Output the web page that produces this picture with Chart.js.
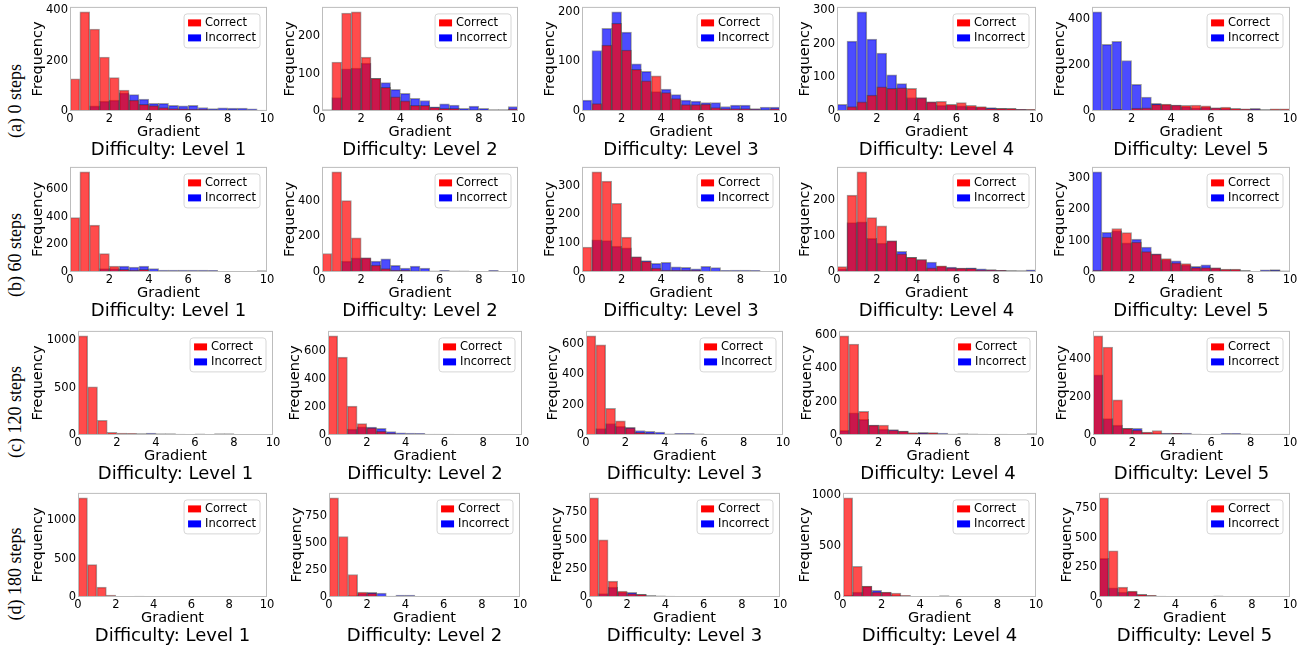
<!DOCTYPE html>
<html><head><meta charset="utf-8">
<script src="https://cdn.jsdelivr.net/npm/chart.js@4.4.0/dist/chart.umd.min.js"></script>
<style>
html,body{margin:0;padding:0;background:#fff;width:1307px;height:649px;overflow:hidden;position:relative;font-family:"DejaVu Sans",sans-serif;}
canvas{position:absolute;}
.rowlab{position:absolute;font-family:"Liberation Serif","Times New Roman",serif;font-size:18px;color:#000;white-space:nowrap;transform:translate(-50%,-50%) rotate(-90deg);}
</style></head><body>
<script>
// ---- categories (bin centres of 0.5-wide bins on 0..10) ----
const bins = [0.25,0.75,1.25,1.75,2.25,2.75,3.25,3.75,4.25,4.75,5.25,5.75,6.25,6.75,7.25,7.75,8.25,8.75,9.25,9.75];
const seriesNames = ['Correct','Incorrect'];
const rowLabels = ['(a) 0 steps','(b) 60 steps','(c) 120 steps','(d) 180 steps'];
const levelTitles = ['Difficulty: Level 1','Difficulty: Level 2','Difficulty: Level 3','Difficulty: Level 4','Difficulty: Level 5'];
const xTicks = [0,2,4,6,8,10];
const yTicksA = [[0,200,400],[0,100,200],[0,100,200],[0,100,200,300],[0,200,400]];
const yTicksB = [[0,200,400,600],[0,200,400],[0,100,200,300],[0,100,200],[0,100,200,300]];
const yTicksC = [[0,500,1000],[0,200,400,600],[0,200,400,600],[0,200,400,600],[0,200,400]];
const yTicksD = [[0,500,1000],[0,250,500,750],[0,250,500,750],[0,500,1000],[0,250,500,750]];

// ---- (a) 0 steps ----
const correctA1 = [128,393,325,214,132,83,43,26,21,14,10,9,7,7,6,5,6,5,4,1];
const incorrectA1 = [0,2,20,39,43,72,65,47,30,30,22,20,22,14,10,13,12,12,9,4];
const correctA2 = [3,131,262,265,144,87,63,38,27,15,15,10,7,7,3,4,3,3,3,6];
const incorrectA2 = [3,36,113,115,128,87,76,58,47,34,28,11,19,16,7,13,7,4,4,12];
const correctA3 = [0,15,133,177,123,84,61,71,37,25,13,13,14,7,5,5,5,4,3,5];
const incorrectA3 = [22,122,167,200,159,95,80,39,44,33,22,20,17,17,9,12,12,5,8,8];
const correctA4 = [0,13,27,47,72,67,69,67,39,27,29,20,25,17,13,8,8,8,5,5];
const incorrectA4 = [20,207,294,213,172,107,81,40,40,27,17,18,15,13,11,10,8,7,5,4];
const correctA5 = [0,0,7,4,13,14,29,30,26,25,26,22,14,17,12,9,7,6,9,9];
const incorrectA5 = [432,290,304,220,116,61,33,28,26,19,14,17,14,12,9,8,12,6,6,6];
// ---- (b) 60 steps ----
const correctB1 = [395,727,340,134,43,19,14,19,7,5,3,3,3,2,2,1,1,1,1,1];
const incorrectB1 = [0,0,0,24,24,43,36,43,24,14,14,14,14,14,12,0,0,5,0,10];
const correctB2 = [104,564,402,192,80,39,19,11,9,6,4,2,2,2,1,1,0,1,0,1];
const incorrectB2 = [0,7,61,80,80,61,74,37,22,33,22,6,9,6,6,4,0,9,0,4];
const correctB3 = [87,348,316,239,121,53,37,14,7,7,7,7,3,3,2,2,1,1,1,1];
const incorrectB3 = [5,112,109,90,84,53,40,30,34,18,16,11,20,15,6,7,7,6,2,2];
const correctB4 = [15,215,280,152,129,87,51,41,35,12,17,12,11,10,6,6,5,4,3,3];
const incorrectB4 = [9,138,140,94,81,87,58,41,35,28,16,14,11,12,9,7,5,4,4,6];
const correctB5 = [6,112,139,126,96,65,57,43,29,27,14,14,13,9,9,4,2,4,5,4];
const incorrectB5 = [320,127,132,93,105,80,58,40,36,23,18,23,13,8,8,5,2,7,8,3];
// ---- (c) 120 steps ----
const correctC1 = [1048,510,156,28,21,17,14,10,7,7,10,5,3,3,2,2,1,1,1,1];
const incorrectC1 = [0,0,0,5,10,10,12,21,14,14,7,5,12,5,14,14,7,3,0,0];
const correctC2 = [710,558,207,82,52,28,12,7,5,3,2,2,1,1,1,1,1,0,0,1];
const incorrectC2 = [0,0,42,59,56,47,24,16,14,12,7,7,6,5,2,2,3,0,0,5];
const correctC3 = [655,595,177,93,48,17,12,7,5,3,3,2,1,1,1,1,0,0,0,0];
const incorrectC3 = [0,43,76,58,50,30,24,19,7,11,11,7,5,5,3,2,4,2,0,2];
const correctC4 = [596,547,142,59,60,30,24,14,11,14,6,5,8,3,2,2,1,1,1,1];
const incorrectC4 = [28,134,94,59,35,33,24,12,16,12,12,6,4,7,5,3,6,3,3,8];
const correctC5 = [525,466,186,35,26,15,24,8,9,5,5,4,5,3,3,2,1,1,1,1];
const incorrectC5 = [318,87,52,35,35,13,10,10,9,10,5,4,4,9,9,6,3,2,5,5];
// ---- (d) 180 steps ----
const correctD1 = [1293,422,129,26,9,4,3,2,2,1,1,1,1,1,0,0,0,0,0,0];
const incorrectD1 = [0,0,0,0,3,10,12,10,5,3,3,2,2,4,2,1,1,1,3,0];
const correctD2 = [918,560,208,46,37,9,5,3,3,2,2,1,1,1,1,1,1,1,1,0];
const incorrectD2 = [0,0,12,37,43,37,9,18,18,5,5,4,3,4,3,2,1,1,1,1];
const correctD3 = [872,503,140,52,29,23,12,7,5,2,2,1,1,1,1,0,0,0,0,0];
const incorrectD3 = [0,29,87,44,41,24,12,10,8,5,5,3,2,2,2,2,2,2,0,0];
const correctD4 = [974,302,107,49,49,39,16,5,3,3,2,2,1,1,1,1,1,1,1,0];
const incorrectD4 = [20,49,105,65,45,20,10,5,3,7,13,4,3,3,2,2,2,2,3,0];
const correctD5 = [834,389,83,50,22,14,8,5,3,2,2,2,2,1,1,1,1,1,0,0];
const incorrectD5 = [325,78,42,45,20,12,6,4,2,2,2,2,10,3,3,3,4,2,0,0];

// ---- assemble (references only) ----
const gridCorrect = [
  [correctA1,correctA2,correctA3,correctA4,correctA5],
  [correctB1,correctB2,correctB3,correctB4,correctB5],
  [correctC1,correctC2,correctC3,correctC4,correctC5],
  [correctD1,correctD2,correctD3,correctD4,correctD5]];
const gridIncorrect = [
  [incorrectA1,incorrectA2,incorrectA3,incorrectA4,incorrectA5],
  [incorrectB1,incorrectB2,incorrectB3,incorrectB4,incorrectB5],
  [incorrectC1,incorrectC2,incorrectC3,incorrectC4,incorrectC5],
  [incorrectD1,incorrectD2,incorrectD3,incorrectD4,incorrectD5]];
const gridYTicks = [yTicksA,yTicksB,yTicksC,yTicksD];

// ---- layout (pixel positions of plot areas) ----
const L = {
  rowTop: [6,166,330,492],
  rowBottom: [111,272,435,597],
  lefts: [[70,322,582,837,1092],[70,322,582,837,1092],[78,328,586,839,1093],[78,329,589,843,1099]],
  rights: [[267,518,780,1036,1290],[267,518,780,1036,1290],[273,522,783,1037,1290],[267,520,780,1036,1290]],
  ylabOff: [[32,32,32,32,32],[32,32,32,32,32],[40,33,33,32,31],[40,32,32,38,32]],
  rowLabelPos: [[15,101],[15,255],[15,412],[15,574]]
};
const PAD_T = 8, PAD_R = 10, PAD_B = 2, XAX_H = 29, TITLE_H = 20;
const FONT = '"DejaVu Sans"';
const fillColors = ['rgba(255,0,0,0.7)','rgba(0,0,255,0.7)'];
const legendColors = ['#ff0000','#0000ff'];

const frameLegend = {
  id: 'frameLegend',
  afterDraw(chart) {
    const {ctx, chartArea: a} = chart;
    ctx.save();
    ctx.strokeStyle = '#bdbdbd'; ctx.lineWidth = 1;
    ctx.strokeRect(a.left + 0.5, a.top + 0.5, a.right - a.left - 1, a.bottom - a.top - 1);
    ctx.font = '11.5px ' + FONT;
    const labels = chart.data.datasets.map(d => d.label);
    const tw = Math.max(...labels.map(t => ctx.measureText(t).width));
    const pw = 13, ph = 7, pad = 4, gap = 4;
    const bw = pad + pw + gap + tw + pad, bh = 34;
    const bx = a.right - 7 - bw, by = a.top + 7;
    ctx.beginPath();
    if (ctx.roundRect) ctx.roundRect(bx, by, bw, bh, 3); else ctx.rect(bx, by, bw, bh);
    ctx.fillStyle = 'rgba(255,255,255,0.8)'; ctx.fill();
    ctx.strokeStyle = '#d6d6d6'; ctx.stroke();
    labels.forEach((t, k) => {
      const cy = by + 9 + k * 15;
      ctx.fillStyle = legendColors[k];
      ctx.fillRect(bx + pad, cy - ph / 2, pw, ph);
      ctx.fillStyle = '#000'; ctx.textBaseline = 'middle'; ctx.textAlign = 'left';
      ctx.fillText(t, bx + pad + pw + gap, cy + 0.5);
    });
    ctx.restore();
  }
};

rowLabels.forEach((t, r) => {
  const d = document.createElement('div');
  d.className = 'rowlab'; d.textContent = t;
  d.style.left = L.rowLabelPos[r][0] + 'px'; d.style.top = L.rowLabelPos[r][1] + 'px';
  document.body.appendChild(d);
});

for (let r = 0; r < 4; r++) {
  for (let c = 0; c < 5; c++) {
    const cor = gridCorrect[r][c], inc = gridIncorrect[r][c];
    const yt = gridYTicks[r][c];
    const W = L.ylabOff[r][c] + 8;
    const left = L.lefts[r][c], right = L.rights[r][c];
    const top = L.rowTop[r], bottom = L.rowBottom[r];
    const cw = W + (right - left) + PAD_R;
    const ch = PAD_T + (bottom - top) + XAX_H + TITLE_H + PAD_B;
    const cv = document.createElement('canvas');
    cv.width = cw; cv.height = ch;
    cv.style.left = (left - W) + 'px'; cv.style.top = (top - PAD_T) + 'px';
    cv.style.width = cw + 'px'; cv.style.height = ch + 'px';
    document.body.appendChild(cv);
    const ymax = 1.05 * Math.max(...cor, ...inc);
    const tickFont = {family: FONT, size: 11.5};
    new Chart(cv, {
      type: 'bar',
      data: {
        datasets: [cor, inc].map((vals, k) => ({
          label: seriesNames[k],
          data: bins.map((b, i) => ({x: b, y: vals[i]})),
          backgroundColor: fillColors[k],
          borderColor: 'rgba(40,40,40,0.45)',
          borderWidth: 1,
          borderSkipped: 'bottom',
          barPercentage: 1, categoryPercentage: 1, grouped: false
        }))
      },
      options: {
        responsive: false, maintainAspectRatio: false, animation: false, events: [],
        layout: {padding: {top: PAD_T, right: PAD_R, bottom: PAD_B, left: 0}},
        plugins: {
          legend: {display: false}, tooltip: {enabled: false},
          title: {display: true, position: 'bottom', fullSize: false, text: levelTitles[c], color: '#000',
                  font: {family: FONT, size: 18, weight: 'normal', lineHeight: '20px'}, padding: 0}
        },
        scales: {
          x: {type: 'linear', min: xTicks[0], max: xTicks[xTicks.length - 1], offset: false,
              grid: {display: false, drawTicks: false}, border: {display: false},
              ticks: {padding: 1, color: '#000', font: tickFont, maxRotation: 0, autoSkip: false,
                      callback: v => String(v)},
              afterBuildTicks(s) { s.ticks = xTicks.map(v => ({value: v})); },
              title: {display: true, text: 'Gradient', color: '#000', font: {family: FONT, size: 14.5, lineHeight: '16px'}, padding: 0},
              afterFit(s) { s.height = XAX_H; }},
          y: {min: 0, max: ymax,
              grid: {display: false, drawTicks: false}, border: {display: false},
              ticks: {padding: 2, color: '#000', font: tickFont, autoSkip: false, callback: v => String(v)},
              afterBuildTicks(s) { s.ticks = yt.map(v => ({value: v})); },
              title: {display: true, text: 'Frequency', color: '#000', font: {family: FONT, size: 14.5, lineHeight: '16px'}, padding: 0},
              afterFit(s) { s.width = W; }}
        }
      },
      plugins: [frameLegend]
    });
  }
}
</script>
</body></html>
